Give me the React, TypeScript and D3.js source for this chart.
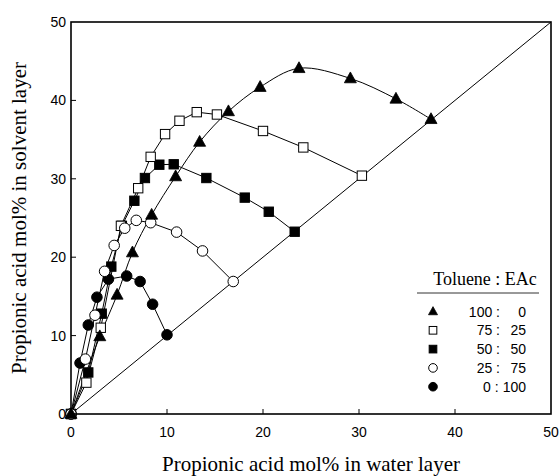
import React from "react";
import * as d3 from "d3";

const W = 560;
const H = 476;

const xTicks = [0, 10, 20, 30, 40, 50];
const yTicks = [0, 10, 20, 30, 40, 50];

const xTitle = "Propionic acid mol% in water layer";
const yTitle = "Propionic acid mol% in solvent layer";
const legendTitle = "Toluene : EAc";

// [water, solvent]
const tol100: [number, number][] = [
  [0, 0], [3.0, 9.9], [4.8, 15.2], [6.4, 20.6], [8.4, 25.4], [10.9, 30.3],
  [13.4, 34.7], [16.4, 38.6], [19.7, 41.7], [23.75, 44.1], [29.1, 42.8],
  [33.85, 40.2], [37.5, 37.6],
];
const tol75: [number, number][] = [
  [0, 0], [1.6, 4.0], [3.1, 11.0], [5.2, 24.0], [7.0, 28.8], [8.3, 32.8],
  [9.8, 35.7], [11.3, 37.4], [13.1, 38.5], [15.2, 38.2], [20.0, 36.1],
  [24.2, 34.0], [30.3, 30.4],
];
const tol50: [number, number][] = [
  [0, 0], [1.8, 5.3], [3.2, 12.8], [4.2, 18.8], [5.3, 24.0], [6.6, 27.2],
  [7.7, 30.1], [9.2, 31.8], [10.7, 31.85], [14.1, 30.1], [18.1, 27.6],
  [20.6, 25.8], [23.3, 23.25],
];
const tol25: [number, number][] = [
  [0, 0], [1.5, 7.0], [2.5, 12.6], [3.5, 18.2], [4.5, 21.5], [5.6, 23.7],
  [6.8, 24.7], [8.3, 24.4], [11.0, 23.2], [13.7, 20.8], [16.9, 16.9],
];
const tol0: [number, number][] = [
  [0, 0], [0.94, 6.5], [1.8, 11.35], [2.7, 14.9], [3.9, 17.2], [5.8, 17.6],
  [7.2, 16.9], [8.5, 14.0], [10.0, 10.1],
];

const legendLeft = ["100 :", "75 :", "50 :", "25 :", "0 :"];
const legendRight = ["0", "25", "50", "75", "100"];

type Shape = "triangle" | "square" | "circle";
interface Series {
  data: [number, number][];
  shape: Shape;
  filled: boolean;
  smooth: boolean;
}

const series: Series[] = [
  { data: tol100, shape: "triangle", filled: true, smooth: true },
  { data: tol75, shape: "square", filled: false, smooth: false },
  { data: tol50, shape: "square", filled: true, smooth: false },
  { data: tol25, shape: "circle", filled: false, smooth: false },
  { data: tol0, shape: "circle", filled: true, smooth: false },
];
const drawOrder = [2, 1, 4, 3, 0];

const x = d3.scaleLinear().domain([0, 50]).range([71, 551]);
const y = d3.scaleLinear().domain([0, 50]).range([414, 22]);

function Marker({ shape, filled, cx, cy, s }: { shape: Shape; filled: boolean; cx: number; cy: number; s: number }) {
  const fill = filled ? "#000" : "#fff";
  if (shape === "triangle") {
    const h = s * 0.9;
    const pts = [
      [cx, cy - h * 0.6],
      [cx - s / 2, cy + h * 0.4],
      [cx + s / 2, cy + h * 0.4],
    ]
      .map((p) => p.join(","))
      .join(" ");
    return <polygon points={pts} fill="#000" stroke="#000" strokeWidth={0.8} />;
  }
  if (shape === "square") {
    const a = s * 0.85;
    return <rect x={cx - a / 2} y={cy - a / 2} width={a} height={a} fill={fill} stroke="#000" strokeWidth={1} />;
  }
  return <circle cx={cx} cy={cy} r={s * 0.48} fill={fill} stroke="#000" strokeWidth={1} />;
}

export default function App() {
  const lineLin = d3.line<[number, number]>().x((d) => x(d[0])).y((d) => y(d[1]));
  const lineSmooth = d3
    .line<[number, number]>()
    .x((d) => x(d[0]))
    .y((d) => y(d[1]))
    .curve(d3.curveCatmullRom.alpha(0.5));

  const legY0 = 311.5;
  const legDy = 18.8;

  return (
    <div style={{ position: "absolute", left: 0, top: 0 }}>
      <svg width={W} height={H} style={{ display: "block", background: "#fff" }}>
        {/* diagonal */}
        <line x1={x(0)} y1={y(0)} x2={x(50)} y2={y(50)} stroke="#000" strokeWidth={1} />
        {/* series lines */}
        {series.map((s, i) => (
          <path key={"l" + i} d={(s.smooth ? lineSmooth : lineLin)(s.data) || ""} fill="none" stroke="#000" strokeWidth={1} />
        ))}
        {/* markers */}
        {drawOrder.map((i) => {
          const s = series[i];
          return (
            <g key={"m" + i}>
              {s.data.map((d, j) => (
                <Marker key={j} shape={s.shape} filled={s.filled} cx={x(d[0])} cy={y(d[1])} s={s.shape === "triangle" ? 12 : 11} />
              ))}
            </g>
          );
        })}
        {/* frame */}
        <rect x={x(0)} y={y(50)} width={x(50) - x(0)} height={y(0) - y(50)} fill="none" stroke="#000" strokeWidth={1.6} />
        {/* ticks */}
        {xTicks.slice(1, -1).map((t) => (
          <line key={"xt" + t} x1={x(t)} x2={x(t)} y1={y(0)} y2={y(0) - 5} stroke="#000" strokeWidth={1} />
        ))}
        {yTicks.slice(1, -1).map((t) => (
          <line key={"yt" + t} x1={x(0)} x2={x(0) + 5} y1={y(t)} y2={y(t)} stroke="#000" strokeWidth={1} />
        ))}
        {/* tick labels */}
        {xTicks.map((t) => (
          <text key={"xl" + t} x={x(t)} y={437} textAnchor="middle" fontFamily="Liberation Sans, Arial, sans-serif" fontSize={14}>
            {t}
          </text>
        ))}
        {yTicks.map((t) => (
          <text key={"yl" + t} x={x(0) - 5} y={y(t) + 5} textAnchor="end" fontFamily="Liberation Sans, Arial, sans-serif" fontSize={14}>
            {t}
          </text>
        ))}
        {/* axis titles */}
        <text x={(x(0) + x(50)) / 2} y={471} textAnchor="middle" fontFamily="Liberation Serif, Times New Roman, serif" fontSize={21}>
          {xTitle}
        </text>
        <text
          transform={`translate(26, ${(y(0) + y(50)) / 2}) rotate(-90)`}
          textAnchor="middle"
          fontFamily="Liberation Serif, Times New Roman, serif"
          fontSize={21}
        >
          {yTitle}
        </text>
        {/* legend */}
        <text x={485} y={285} textAnchor="middle" fontFamily="Liberation Serif, Times New Roman, serif" fontSize={18}>
          {legendTitle}
        </text>
        <line x1={417} x2={539} y1={293} y2={293} stroke="#333" strokeWidth={1} />
        {series.map((s, i) => {
          const cy = legY0 + i * legDy;
          const rightW = legendRight[i].length * 7.8;
          const leftEnd = Math.min(500, 526 - rightW - 4);
          return (
            <g key={"lg" + i}>
              <Marker shape={s.shape} filled={s.filled} cx={433} cy={cy} s={s.shape === "triangle" ? 9 : 9} />
              <text x={leftEnd} y={cy + 5} textAnchor="end" fontFamily="Liberation Sans, Arial, sans-serif" fontSize={14}>
                {legendLeft[i]}
              </text>
              <text x={526} y={cy + 5} textAnchor="end" fontFamily="Liberation Sans, Arial, sans-serif" fontSize={14}>
                {legendRight[i]}
              </text>
            </g>
          );
        })}
      </svg>
    </div>
  );
}
